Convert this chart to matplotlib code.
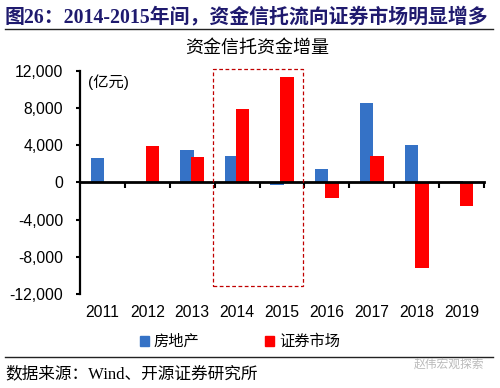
import matplotlib.pyplot as plt
from matplotlib.patches import Patch, Rectangle

years = ["2011", "2012", "2013", "2014", "2015", "2016", "2017", "2018", "2019"]
real_estate = [2600, 0, 3500, 2800, -300, 1500, 8600, 4050, 200]
securities = [0, 3900, 2700, 7900, 11400, -1700, 2800, -9200, -2500]
yticks = [-12000, -8000, -4000, 0, 4000, 8000, 12000]

blue = "#3572C6"
red = "#FF0000"
sans = ["Liberation Sans", "Noto Sans CJK SC"]
serif = ["Liberation Serif", "Noto Sans CJK SC"]
plt.rcParams["font.family"] = sans

fig = plt.figure(figsize=(5, 3.88), dpi=100)
ax = fig.add_axes([0.16, 0.2423, 0.808, 0.5747])

x = list(range(len(years)))
w = 0.3
ax.bar([i - 0.115 for i in x], real_estate, w, color=blue, zorder=2)
ax.bar([i + 0.115 for i in x], securities, w, color=red, zorder=3)

ax.set_xlim(-0.5, len(years) - 0.5)
ax.set_ylim(-12000, 12000)
ax.set_yticks(yticks)
ax.set_yticklabels([f"{v:,}" for v in yticks], fontsize=11.3)
ax.tick_params(axis="y", direction="out", length=3, width=1.5, pad=9)

ax.spines["top"].set_visible(False)
ax.spines["right"].set_visible(False)
ax.spines["left"].set_linewidth(1.6)
ax.spines["bottom"].set_position(("data", 0))
ax.spines["bottom"].set_linewidth(2)
ax.spines["bottom"].set_zorder(4)
ax.set_xticks(x)
ax.set_xticklabels([])
ax.tick_params(axis="x", which="major", length=0)
ax.set_xticks([i + 0.5 for i in x], minor=True)
ax.tick_params(axis="x", which="minor", direction="out", length=4, width=1.5)
for i, yr in zip(x, years):
    ax.text(i, -0.05, yr, transform=ax.get_xaxis_transform(), ha="center",
            va="top", fontsize=11.3)

ax.text(0.02, 0.985, "(亿元)", transform=ax.transAxes, ha="left", va="top",
        fontsize=11)

# 2014-2015 highlight box
ax.add_patch(Rectangle((2.47, -11100), 1.99, 23300, fill=False,
                       edgecolor="#C00000", linestyle=(0, (3, 2)), linewidth=0.9,
                       zorder=5, clip_on=False))

fig.text(0.01, 0.955, "图26：2014-2015年间，资金信托流向证券市场明显增多",
         fontsize=14.3, fontweight="bold", color="#1F1A6E", family=serif,
         ha="left", va="center")
fig.add_artist(plt.Line2D([0.01, 0.986], [0.925, 0.925], color="#222222",
                          linewidth=1))
fig.text(0.514, 0.875, "资金信托资金增量", fontsize=13, ha="center", va="center")

handles = [Patch(color=blue, label="房地产"), Patch(color=red, label="证券市场")]
fig.legend(handles=handles, loc="center", bbox_to_anchor=(0.48, 0.119), ncol=2,
           frameon=False, fontsize=11, handlelength=0.6, handleheight=0.6,
           handletextpad=0.3, columnspacing=4.3)

fig.add_artist(plt.Line2D([0.01, 0.986], [0.08, 0.08], color="#222222",
                          linewidth=1))
fig.text(0.01, 0.035, "数据来源：Wind、开源证券研究所", fontsize=12, family=serif,
         ha="left", va="center")
fig.text(0.968, 0.059, "赵伟宏观探索", fontsize=8.5, color="#BBBBBB",
         ha="right", va="center")

fig.savefig("out.png", dpi=100)
